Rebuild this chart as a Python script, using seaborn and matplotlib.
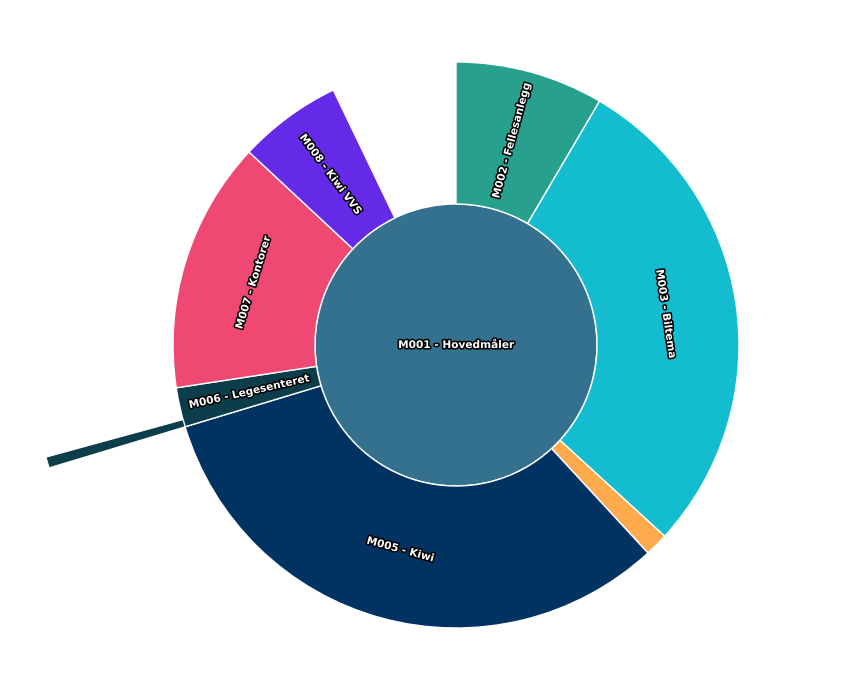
import matplotlib.pyplot as plt
import matplotlib.patheffects as pe
import numpy as np
import seaborn as sns

sns.set_theme(style="white")
plt.rcParams['font.family'] = ['DejaVu Sans']

root_name = "M001 - Hovedmåler"
root_value = 3600
meters = ["M002 - Fellesanlegg", "M003 - Biltema", "M004", "M005 - Kiwi",
          "M006 - Legesenteret", "M007 - Kontorer", "M008 - Kiwi VVS"]
values = [305, 1020, 48, 1159, 81, 517, 213]
sub_parent = "M006 - Legesenteret"
sub_value = 15

root_color = "#33718f"
colors = ["#27a08e", "#13bccf", "#ffaa4c", "#003262", "#0b3d4a", "#ef4872", "#6529e8"]

cx, cy = 456, 333
r_in, r_out, r_sub = 141, 283, 425

fig = plt.figure(figsize=(8.56, 6.78), dpi=100)
ax = fig.add_axes([0, 0, 1, 1])

outline = [pe.withStroke(linewidth=2.2, foreground="black")]
txt = dict(color="white", fontsize=7.6, fontweight="bold", ha="center", va="center",
           path_effects=outline)

# root
ax.pie([root_value], colors=[root_color], radius=r_in, center=(cx, cy),
       wedgeprops=dict(edgecolor="white", linewidth=1))

# first level ring
gap = root_value - sum(values)
wedges, _ = ax.pie(values + [gap], colors=colors + ["none"], radius=r_out,
                   center=(cx, cy), startangle=90, counterclock=False,
                   wedgeprops=dict(width=r_out - r_in, edgecolor="white", linewidth=1))
wedges[-1].set_visible(False)

# second level (child of M006)
i = meters.index(sub_parent)
offset = sum(values[:i])
sub, _ = ax.pie([offset, sub_value, root_value - offset - sub_value],
                colors=["none", colors[i], "none"], radius=r_sub, center=(cx, cy),
                startangle=90, counterclock=False,
                wedgeprops=dict(width=r_sub - r_out, edgecolor="white", linewidth=0.8))
sub[0].set_visible(False)
sub[2].set_visible(False)


def upright(a):
    return (a + 90) % 180 - 90


r_mid = (r_in + r_out) / 2
for w, name in zip(wedges[:-1], meters):
    span = abs(w.theta2 - w.theta1)
    if span < 6:
        continue
    phi = (w.theta1 + w.theta2) / 2
    x = cx + r_mid * np.cos(np.radians(phi))
    y = cy + r_mid * np.sin(np.radians(phi))
    if r_mid * np.radians(span) > (r_out - r_in):
        rot = upright(phi - 90)
    else:
        rot = upright(phi)
    ax.text(x, y, name, rotation=rot, rotation_mode="anchor", **txt)

ax.text(cx, cy, root_name, **txt)

ax.set_xlim(0, 856)
ax.set_ylim(0, 678)
ax.axis("off")
plt.savefig("out.png", dpi=100)
